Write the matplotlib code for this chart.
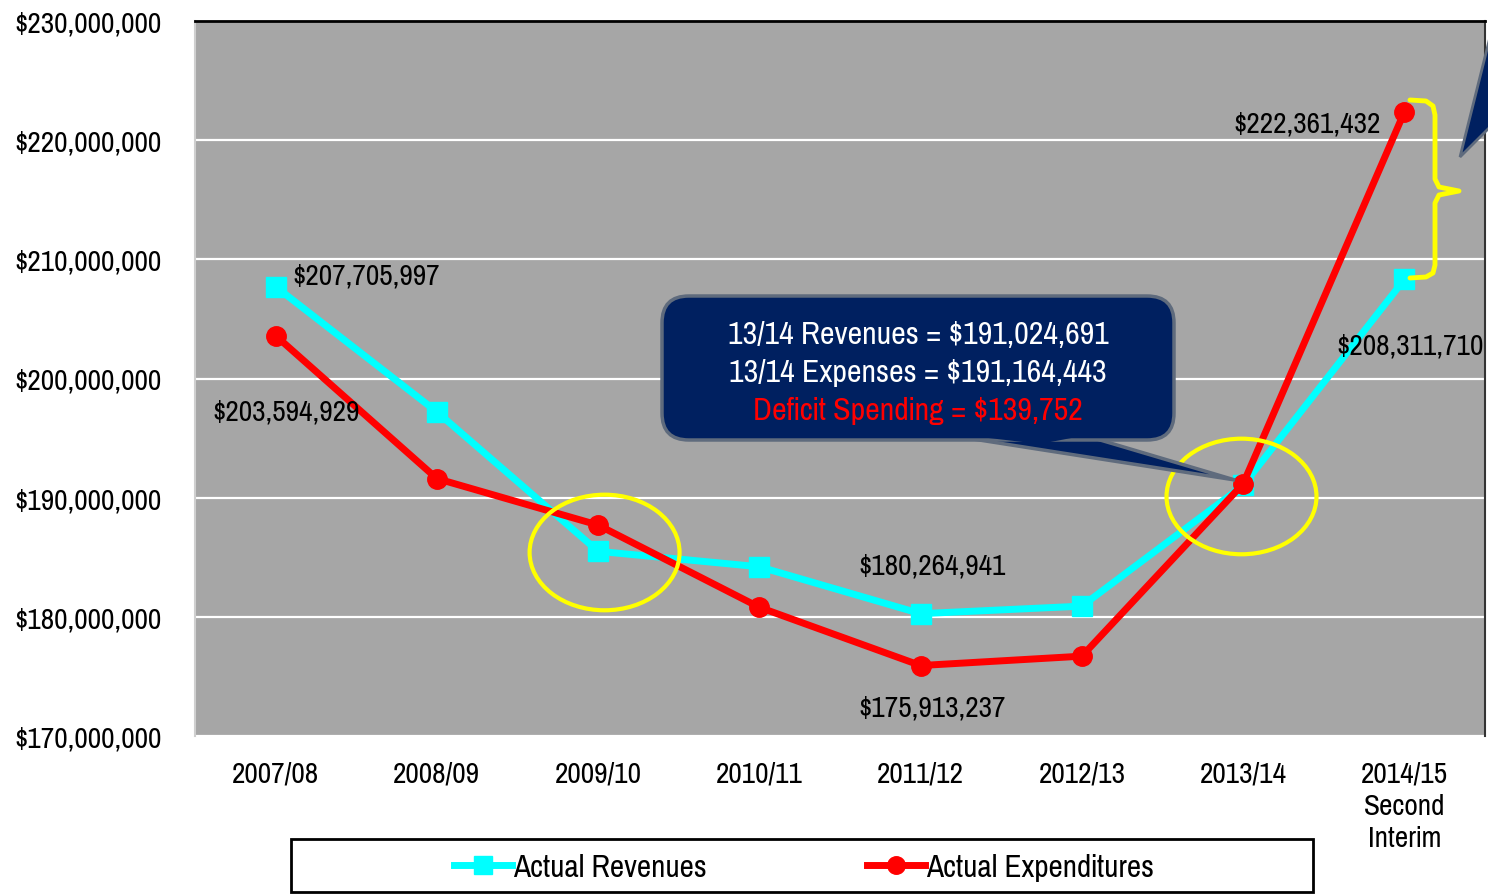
import matplotlib.pyplot as plt
from matplotlib.patches import Ellipse, FancyBboxPatch, Polygon, Rectangle
from matplotlib.lines import Line2D
from matplotlib import font_manager as fm

wanted = ['Liberation Sans Narrow', 'Pragati Narrow', 'Archivo Narrow', 'Roboto Condensed',
          'PT Sans Narrow', 'IBM Plex Sans Condensed']
have = set(f.name for f in fm.fontManager.ttflist)
narrow = [n for n in wanted if n in have]
plt.rcParams['font.family'] = narrow[:1] + ['DejaVu Sans']

years = ['2007/08', '2008/09', '2009/10', '2010/11', '2011/12', '2012/13', '2013/14',
         '2014/15\nSecond\nInterim']
revenues = [207705997, 197200000, 185500000, 184200000, 180264941, 180900000, 191024691, 208311710]
expenditures = [203594929, 191600000, 187700000, 180800000, 175913237, 176700000, 191164443, 222361432]
yticks = [170e6, 180e6, 190e6, 200e6, 210e6, 220e6, 230e6]

W, H = 1488, 895
fig = plt.figure(figsize=(W / 100, H / 100), dpi=100)
ax = fig.add_axes([195 / W, 1 - 737 / H, 1290 / W, 715 / H])
ax.set_facecolor('#a6a6a6')


def fx(x, y):
    # pixel position -> figure fraction
    return (x / W, 1 - y / H)


x = list(range(len(years)))
ax.plot(x, revenues, color='#00ffff', lw=5, marker='s', ms=14, zorder=3, label='Actual Revenues')
ax.plot(x, expenditures, color='#ff0000', lw=5, marker='o', ms=14, zorder=4, label='Actual Expenditures')

ax.set_xlim(-0.5, 7.5)
ax.set_ylim(170e6, 230e6)
ax.set_yticks(yticks)
ax.set_yticklabels(['${:,.0f}'.format(v) for v in yticks])
ax.set_xticks(x)
ax.set_xticklabels(years)
ax.tick_params(axis='y', length=0, pad=24, labelsize=23)
ax.tick_params(axis='x', length=0, pad=18, labelsize=23)
for t in ax.get_xticklabels():
    t.set_linespacing(1.28)
ax.yaxis.grid(True, color='white', lw=1.6)
ax.set_axisbelow(True)
ax.spines['bottom'].set_visible(False)
ax.spines['top'].set_color('black')
ax.spines['top'].set_linewidth(2)
ax.spines['right'].set_color('#333333')
ax.spines['right'].set_linewidth(1.5)
ax.spines['left'].set_color('#cfcfcf')
ax.spines['left'].set_linewidth(1.5)

# data labels
labels = [
    (0, revenues[0], (17, 11), 'left'),
    (0, expenditures[0], (10, -76), 'center'),
    (4, revenues[4], (11, 48), 'center'),
    (4, expenditures[4], (11, -42), 'center'),
    (7, expenditures[7], (-24, -11), 'right'),
    (7, revenues[7], (6, -66), 'center'),
]
for i, v, off, ha in labels:
    ax.annotate('${:,.0f}'.format(v), (i, v), xytext=off, textcoords='offset pixels',
                ha=ha, va='center', fontsize=23, color='black', zorder=6)

# yellow highlight circles
ax.add_patch(Ellipse((2.04, 185.4e6), 0.93, 9.7e6, fill=False, ec='#ffff00', lw=3, zorder=5))
ax.add_patch(Ellipse((5.99, 190.1e6), 0.93, 9.7e6, fill=False, ec='#ffff00', lw=3, zorder=5))

# callout box with tail
navy = '#002060'
edge = '#5f6b7d'
tail = Polygon([fx(960, 438), fx(1235, 481), fx(1090, 438)], closed=True,
               transform=fig.transFigure, fc=navy, ec=edge, lw=2.5, zorder=7)
fig.add_artist(tail)
box = FancyBboxPatch(fx(662, 441), 512 / W, 144 / H,
                     boxstyle='round,pad=0,rounding_size=0.018',
                     transform=fig.transFigure, fc=navy, ec=edge, lw=2.5, zorder=8,
                     mutation_aspect=W / H)
fig.add_artist(box)
cover = Polygon([fx(963, 436), fx(1040, 445), fx(1087, 436)], closed=True,
                transform=fig.transFigure, fc=navy, ec='none', zorder=9)
fig.add_artist(cover)
cx = 918 / W
fig.text(cx, 1 - 335 / H, '13/14 Revenues = ${:,.0f}'.format(revenues[6]), color='white',
         fontsize=25, ha='center', va='center', zorder=10)
fig.text(cx, 1 - 373 / H, '13/14 Expenses = ${:,.0f}'.format(expenditures[6]), color='white',
         fontsize=25, ha='center', va='center', zorder=10)
fig.text(cx, 1 - 411 / H, 'Deficit Spending = ${:,.0f}'.format(expenditures[6] - revenues[6]),
         color='#ff0000', fontsize=25, ha='center', va='center', zorder=10)

# yellow brace
brace = [(1410, 101), (1426, 102), (1433, 107), (1435, 116), (1435, 180), (1439, 188), (1459, 192),
         (1439, 196), (1435, 204), (1435, 266), (1433, 274), (1426, 278), (1410, 279)]
fig.add_artist(Line2D([p[0] / W for p in brace], [1 - p[1] / H for p in brace],
                      color='#ffff00', lw=3.5, solid_capstyle='round', solid_joinstyle='round',
                      zorder=6))

# partial arrow at the right edge
fig.add_artist(Polygon([fx(1460, 158), fx(1490, 38), fx(1490, 128)], closed=True,
                       transform=fig.transFigure, fc=navy, ec=edge, lw=2, zorder=6))

# legend
fig.add_artist(Rectangle(fx(291, 893), 1022 / W, 53 / H, transform=fig.transFigure,
                         fill=False, ec='black', lw=2))
fig.legend(loc='center', bbox_to_anchor=fx(804, 868), ncol=2, frameon=False, fontsize=24.5,
           handlelength=1.7, handletextpad=0.05, columnspacing=4.7, markerscale=0.9)

fig.savefig('out.png', dpi=100)
